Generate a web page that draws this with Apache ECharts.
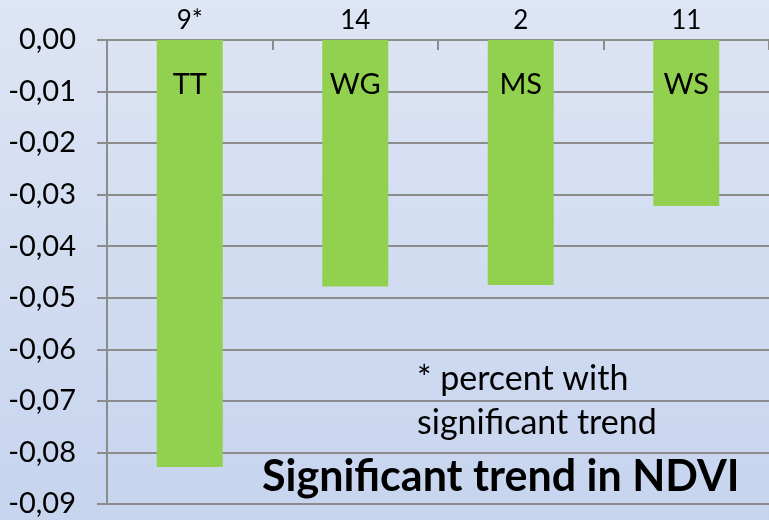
<!DOCTYPE html>
<html>
<head>
<meta charset="utf-8">
<style>
  html, body { margin: 0; padding: 0; }
  #chart { width: 769px; height: 520px; }
</style>
<script src="https://cdn.jsdelivr.net/npm/echarts@6/dist/echarts.min.js"></script>
</head>
<body>
<div id="chart"></div>
<script>
// Mean NDVI trend per region, with share of pixels showing a significant trend
const regions = ['TT', 'WG', 'MS', 'WS'];
const percentSignificant = ['9*', '14', '2', '11'];
const ndviTrend = [-0.0828, -0.0478, -0.0475, -0.0322];
const yTicks = { min: -0.09, max: 0, step: 0.01 };

const FONT = 'Lato';
const GRID_COLOR = '#8c8c8c';

const chart = echarts.init(document.getElementById('chart'));

chart.setOption({
  animation: false,
  backgroundColor: {
    type: 'linear', x: 0, y: 0, x2: 0, y2: 1,
    colorStops: [
      { offset: 0, color: '#dee5f4' },
      { offset: 1, color: '#c6d4ee' }
    ]
  },
  title: [
    {
      text: 'Significant trend in NDVI',
      left: 257, top: 451,
      textStyle: { fontFamily: FONT, fontWeight: 'bold', fontSize: 43, color: '#000' }
    },
    {
      text: '* percent with\nsignificant trend',
      left: 412, top: 352,
      textStyle: { fontFamily: FONT, fontWeight: 'normal', fontSize: 34, lineHeight: 44, color: '#000' }
    }
  ],
  grid: { left: 107, right: -2, top: 40, bottom: 16, containLabel: false },
  xAxis: {
    type: 'category',
    position: 'top',
    data: regions,
    axisLine: { show: true, onZero: false, lineStyle: { color: GRID_COLOR, width: 2 } },
    axisTick: { show: true, inside: true, length: 10, lineStyle: { color: GRID_COLOR, width: 2 } },
    axisLabel: {
      margin: 6,
      fontFamily: FONT, fontSize: 26, color: '#000',
      formatter: (v, i) => percentSignificant[i]
    },
    splitLine: { show: false }
  },
  yAxis: {
    type: 'value',
    min: yTicks.min, max: yTicks.max, interval: yTicks.step,
    axisLine: { show: true, lineStyle: { color: GRID_COLOR, width: 2 } },
    axisTick: { show: true, length: 10, lineStyle: { color: GRID_COLOR, width: 2 } },
    axisLabel: {
      margin: 31,
      fontFamily: FONT, fontSize: 29, color: '#000',
      formatter: v => (Math.abs(v) < 1e-9 ? 0 : v).toFixed(2).replace('.', ',')
    },
    splitLine: { show: true, lineStyle: { color: GRID_COLOR, width: 2 } }
  },
  series: [{
    type: 'bar',
    data: ndviTrend,
    barWidth: 66,
    itemStyle: { color: '#92d050' },
    label: {
      show: true,
      position: 'insideTop',
      distance: 30,
      fontFamily: FONT, fontSize: 29, color: '#000',
      formatter: p => regions[p.dataIndex]
    }
  }]
});
</script>
</body>
</html>
